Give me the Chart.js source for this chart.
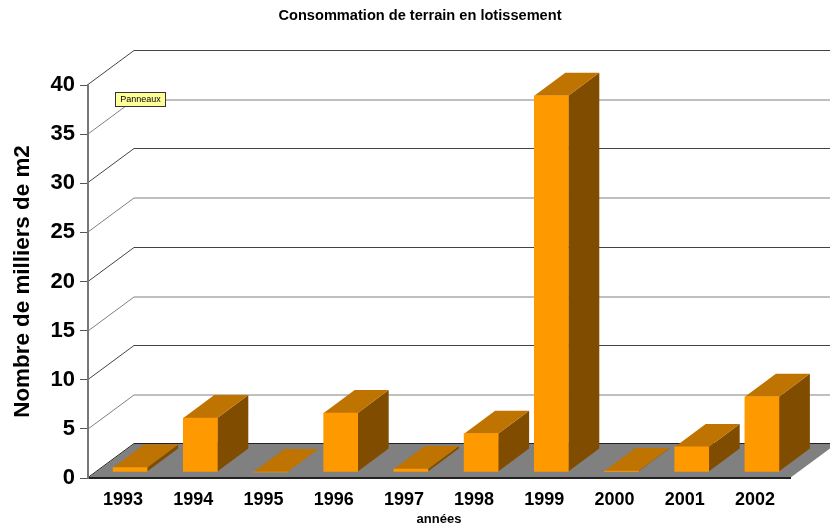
<!DOCTYPE html>
<html>
<head>
<meta charset="utf-8">
<title>Consommation de terrain en lotissement</title>
<script src="https://cdn.jsdelivr.net/npm/chart.js@4/dist/chart.umd.min.js"></script>
<style>
html, body { margin: 0; padding: 0; background: #fff; }
canvas { display: block; }
</style>
</head>
<body>
<canvas id="chartLot" width="830" height="527"></canvas>
<script>
var annees = ["1993", "1994", "1995", "1996", "1997", "1998", "1999", "2000", "2001", "2002"];
var milliers = [0.45, 5.5, 0, 6.0, 0.3, 3.9, 38.3, 0.1, 2.55, 7.65];
var yTicks = [0, 5, 10, 15, 20, 25, 30, 35, 40];

var titre = "Consommation de terrain en lotissement";
var titreX = "années";
var titreY = "Nombre de milliers de m2";
var noteTexte = "Panneaux";

// depth of the floor / of a bar, in pixels
var wallDx = 46, wallDy = 34;
var barDx = 31, barDy = 23;
var shiftX = 7, shiftY = 6;

var ctx = document.getElementById("chartLot");

var decor = {
    id: "decor",
    afterLayout: function (chart) {
        // title is centred a little right of the canvas centre
        chart.titleBlock.left = 10;
        chart.titleBlock.right = 830;
    },
    beforeDraw: function (chart) {
        var c = chart.ctx;
        var y = chart.scales.y;
        var a = chart.chartArea;
        var y0 = y.getPixelForValue(0);

        c.save();
        c.fillStyle = "#ffffff";
        c.fillRect(0, 0, chart.width, chart.height);

        // floor
        c.fillStyle = "#808080";
        c.beginPath();
        c.moveTo(a.left, y0);
        c.lineTo(a.right, y0);
        c.lineTo(a.right + wallDx, y0 - wallDy);
        c.lineTo(a.left + wallDx, y0 - wallDy);
        c.closePath();
        c.fill();

        // grid lines, along the side wall then the back wall
        // every other one comes out darker and sharper in the reference
        yTicks.forEach(function (v) {
            var dark = v % 10 === 0;
            var p = Math.round(y.getPixelForValue(v)) - (dark ? 0.5 : 0);
            c.strokeStyle = v === 0 ? "#222222" : (dark ? "#444444" : "#808080");
            c.lineWidth = 1;
            c.beginPath();
            c.moveTo(a.left, p);
            c.lineTo(a.left + wallDx, p - wallDy);
            c.lineTo(chart.width, p - wallDy);
            c.stroke();
        });
        c.restore();
    },
    beforeDatasetDraw: function (chart, args) {
        var c = chart.ctx;
        c.save();
        c.translate(shiftX, -shiftY);
        chart.getDatasetMeta(args.index).data.forEach(function (bar) {
            var x0 = bar.x - bar.width / 2;
            var x1 = bar.x + bar.width / 2;

            // right side
            c.fillStyle = "#804d00";
            c.beginPath();
            c.moveTo(x1, bar.y);
            c.lineTo(x1 + barDx, bar.y - barDy);
            c.lineTo(x1 + barDx, bar.base - barDy);
            c.lineTo(x1, bar.base);
            c.closePath();
            c.fill();

            // top
            c.fillStyle = "#bf7300";
            c.beginPath();
            c.moveTo(x0, bar.y);
            c.lineTo(x1, bar.y);
            c.lineTo(x1 + barDx, bar.y - barDy);
            c.lineTo(x0 + barDx, bar.y - barDy);
            c.closePath();
            c.fill();
        });
    },
    afterDatasetDraw: function (chart) {
        chart.ctx.restore();
    },
    afterDraw: function (chart) {
        var c = chart.ctx;
        c.save();
        c.fillStyle = "#ffff99";
        c.strokeStyle = "#333333";
        c.lineWidth = 1;
        c.fillRect(115.5, 92.5, 50, 14);
        c.strokeRect(115.5, 92.5, 50, 14);
        c.fillStyle = "#000000";
        c.font = "9px 'Liberation Sans'";
        c.textAlign = "center";
        c.textBaseline = "middle";
        c.fillText(noteTexte, 140.5, 99.5);
        c.restore();
    }
};

var myChart = new Chart(ctx, {
    type: "bar",
    plugins: [decor],
    data: {
        labels: annees,
        datasets: [{
            label: titreY,
            data: milliers,
            backgroundColor: "#ff9900",
            borderWidth: 0,
            barThickness: 34,
            clip: false
        }]
    },
    options: {
        responsive: false,
        animation: false,
        layout: {
            padding: { right: 40, bottom: 0, top: 0, left: 0 }
        },
        plugins: {
            legend: { display: false },
            tooltip: { enabled: false },
            title: {
                display: true,
                text: titre,
                color: "#000000",
                font: { family: "Liberation Sans", size: 14.6, weight: "bold" },
                padding: { top: 7, bottom: 60.5 }
            }
        },
        scales: {
            x: {
                afterFit: function (scale) { scale.height = 49; },
                grid: { display: false, drawTicks: false },
                border: { color: "#222222", width: 2 },
                ticks: {
                    color: "#000000",
                    padding: 11,
                    maxRotation: 0,
                    font: { family: "Liberation Sans", size: 18, weight: "bold" }
                },
                title: {
                    display: true,
                    text: titreX,
                    color: "#000000",
                    font: { family: "Liberation Sans", size: 13, weight: "bold" },
                    padding: { top: 0, bottom: 0 }
                }
            },
            y: {
                min: yTicks[0],
                max: yTicks[yTicks.length - 1],
                afterFit: function (scale) { scale.width = 88; },
                grid: { drawOnChartArea: false, drawTicks: true, tickLength: 8, color: "#555555" },
                border: { color: "#777777", width: 2 },
                ticks: {
                    stepSize: yTicks[1] - yTicks[0],
                    color: "#000000",
                    padding: 5,
                    font: { family: "Liberation Sans", size: 22, weight: "bold" }
                },
                title: {
                    display: true,
                    text: titreY,
                    color: "#000000",
                    font: { family: "Liberation Sans", size: 22.4, weight: "bold" },
                    padding: { top: 9.5, bottom: 0 }
                }
            }
        }
    }
});
</script>
</body>
</html>
